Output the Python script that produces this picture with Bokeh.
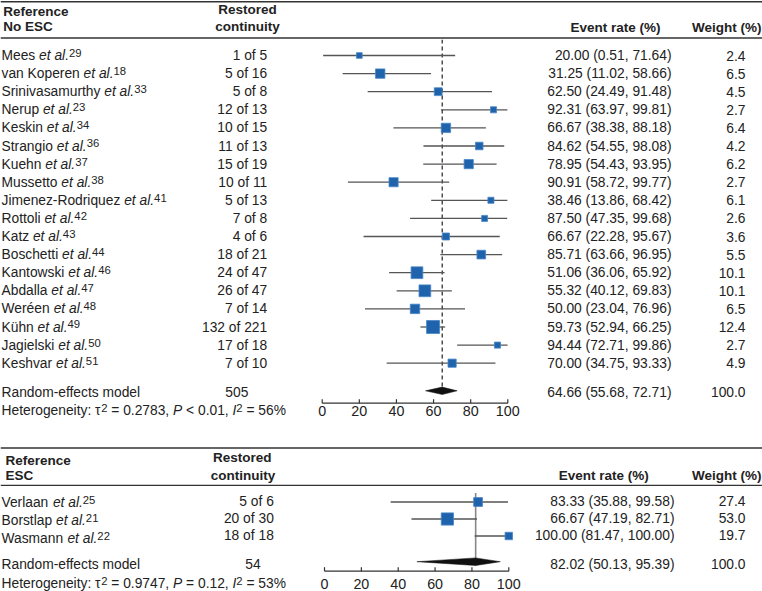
import math
from bokeh.plotting import figure
from bokeh.layouts import column
from bokeh.models import ColumnDataSource, Range1d
from bokeh.embed import file_html
from bokeh.resources import INLINE
from bokeh.core.properties import value

# ---------------- data: No ESC ----------------
noesc_study = ["Mees", "van Koperen", "Srinivasamurthy", "Nerup", "Keskin", "Strangio",
               "Kuehn", "Mussetto", "Jimenez-Rodriquez", "Rottoli", "Katz", "Boschetti",
               "Kantowski", "Abdalla", "Weréen", "Kühn", "Jagielski", "Keshvar"]
noesc_ref = ["29", "18", "33", "23", "34", "36", "37", "38", "41", "42", "43", "44",
             "46", "47", "48", "49", "50", "51"]
noesc_events = [1, 5, 5, 12, 10, 11, 15, 10, 5, 7, 4, 18, 24, 26, 7, 132, 17, 7]
noesc_total = [5, 16, 8, 13, 15, 13, 19, 11, 13, 8, 6, 21, 47, 47, 14, 221, 18, 10]
noesc_rate = [20.00, 31.25, 62.50, 92.31, 66.67, 84.62, 78.95, 90.91, 38.46, 87.50, 66.67,
              85.71, 51.06, 55.32, 50.00, 59.73, 94.44, 70.00]
noesc_lo = [0.51, 11.02, 24.49, 63.97, 38.38, 54.55, 54.43, 58.72, 13.86, 47.35, 22.28,
            63.66, 36.06, 40.12, 23.04, 52.94, 72.71, 34.75]
noesc_hi = [71.64, 58.66, 91.48, 99.81, 88.18, 98.08, 93.95, 99.77, 68.42, 99.68, 95.67,
            96.95, 65.92, 69.83, 76.96, 66.25, 99.86, 93.33]
noesc_weight = [2.4, 6.5, 4.5, 2.7, 6.4, 4.2, 6.2, 2.7, 6.1, 2.6, 3.6, 5.5, 10.1, 10.1,
                6.5, 12.4, 2.7, 4.9]
# row on which each study's marker is drawn (the original figure swaps rows 8 and 9)
noesc_plot_row = [0, 1, 2, 3, 4, 5, 6, 8, 7, 9, 10, 11, 12, 13, 14, 15, 16, 17]
noesc_pooled = [64.66, 55.68, 72.71]
noesc_pooled_n = 505
noesc_pooled_weight = 100.0
noesc_tau2 = "0.2783"
noesc_p = "< 0.01"
noesc_i2 = "56%"

# ---------------- data: ESC ----------------
esc_study = ["Verlaan", "Borstlap", "Wasmann"]
esc_ref = ["25", "21", "22"]
esc_events = [5, 20, 18]
esc_total = [6, 30, 18]
esc_rate = [83.33, 66.67, 100.00]
esc_lo = [35.88, 47.19, 81.47]
esc_hi = [99.58, 82.71, 100.00]
esc_weight = [27.4, 53.0, 19.7]
esc_plot_row = [0, 1, 2]
esc_pooled = [82.02, 50.13, 95.39]
esc_pooled_n = 54
esc_pooled_weight = 100.0
esc_tau2 = "0.9747"
esc_p = "= 0.12"
esc_i2 = "53%"

tick_values = [0, 20, 40, 60, 80, 100]

# ---------------- layout / style ----------------
PAGE_W = 762
FONT = "Liberation Sans"
TEXT_COLOR = "#222222"
RULE_COLOR = "#333333"
CI_COLOR = "#555555"
SQ_FILL = "#1f63ad"
SQ_LINE = "#4a86c6"
SIZES = {"reg": 13.8, "ital": 13.8, "bold": 13.5, "sup": 11.3, "tick": 14.3}
STYLES = {"reg": "normal", "ital": "italic", "bold": "bold", "sup": "normal", "tick": "normal"}
SUP_RISE = 2.6   # superscript centre above the text centre

ARIAL = {c: 556 for c in "0123456789"}
ARIAL.update({' ': 278, '%': 889, '(': 333, ')': 333, ',': 278, '-': 333, '.': 278,
              ':': 278, '<': 584, '=': 584, '>': 584, 'τ': 440, 'ü': 556, 'é': 556,
              'A': 667, 'B': 667, 'C': 722, 'D': 722, 'E': 667, 'F': 611, 'G': 778,
              'H': 722, 'I': 278, 'J': 500, 'K': 667, 'L': 556, 'M': 833, 'N': 722,
              'O': 778, 'P': 667, 'Q': 778, 'R': 722, 'S': 667, 'T': 611, 'U': 722,
              'V': 667, 'W': 944, 'X': 667, 'Y': 667, 'Z': 611,
              'a': 556, 'b': 556, 'c': 500, 'd': 556, 'e': 556, 'f': 278, 'g': 556,
              'h': 556, 'i': 222, 'j': 222, 'k': 500, 'l': 222, 'm': 833, 'n': 556,
              'o': 556, 'p': 556, 'q': 556, 'r': 333, 's': 500, 't': 278, 'u': 556,
              'v': 500, 'w': 722, 'x': 500, 'y': 500, 'z': 500})


def text_width_px(s, size):
    return sum(ARIAL.get(c, 556) for c in s) * size / 1000.0


def new_fig(y0, y1, x_range):
    f = figure(width=PAGE_W, height=int(round(y1 - y0)), x_range=x_range,
               y_range=Range1d(y1, y0), output_backend="svg", toolbar_location=None,
               tools="", x_axis_location=None, y_axis_location=None, min_border=0)
    f.grid.visible = False
    f.outline_line_color = None
    return f


class TextLayer:
    """Collects text items for one figure; x is converted from reference px."""

    def __init__(self, fig, zero_px, px_per_unit):
        self.fig = fig
        self.zero_px = zero_px
        self.ppu = px_per_unit
        self.groups = {}

    def ux(self, ref_px):
        return (ref_px - self.zero_px) / self.ppu

    def add(self, x_ref, y, text, style, align="left"):
        self.add_u(self.ux(x_ref), y, text, style, align)

    def add_u(self, x, y, text, style, align="left"):
        self.groups.setdefault((style, align), []).append((x, y, text))

    def rich(self, x_ref, y, pieces):
        x = self.ux(x_ref)
        for s, style in pieces:
            size = SIZES[style]
            lead = len(s) - len(s.lstrip(" "))
            core = s.strip(" ")
            xx = x + text_width_px(s[:lead], size) / self.ppu
            yy = y - SUP_RISE if style == "sup" else y
            if core:
                self.add_u(xx, yy, core, style)
            x += text_width_px(s, size) / self.ppu

    def render(self):
        for (style, align), items in self.groups.items():
            src = ColumnDataSource(dict(x=[i[0] for i in items], y=[i[1] for i in items],
                                        text=[i[2] for i in items]))
            self.fig.text(x="x", y="y", text="text", source=src,
                          text_font=value(FONT), text_font_size=f"{SIZES[style]}px",
                          text_font_style=STYLES[style], text_align=align,
                          text_baseline="middle", text_color=TEXT_COLOR)


def header_figure(y0, y1, rules, headers):
    f = new_fig(y0, y1, Range1d(0, PAGE_W))
    f.segment(x0=[0] * len(rules), x1=[PAGE_W] * len(rules), y0=rules, y1=rules,
              line_color=RULE_COLOR, line_width=1.6)
    tl = TextLayer(f, 0.0, 1.0)
    for txt, x, y, align in headers:
        tl.add(x, y, txt, "bold", align)
    tl.render()
    return f


def body_figure(y0, y1, zero_px, ppu, cfg):
    xr = Range1d(-zero_px / ppu, (PAGE_W - zero_px) / ppu)
    f = new_fig(y0, y1, xr)
    tl = TextLayer(f, zero_px, ppu)

    names_y, mark_y = cfg["names_y"], cfg["mark_y"]
    for i in range(len(cfg["study"])):
        tl.rich(1, names_y[i], [(cfg["study"][i] + " ", "reg"), ("et al.", "ital"),
                                (cfg["ref"][i], "sup")])
        vy = mark_y[i] + cfg["val_dy"]
        tl.add(cfg["count_x"], vy, f"{cfg['events'][i]} of {cfg['total'][i]}", "reg", "right")
        tl.add(cfg["rate_x"], vy,
               f"{cfg['rate'][i]:.2f} ({cfg['lo'][i]:.2f}, {cfg['hi'][i]:.2f})", "reg", "right")
        tl.add(745, vy, f"{cfg['weight'][i]:.1f}", "reg", "right")

    pe, plo, phi = cfg["pooled"]
    f.segment(x0=[pe], x1=[pe], y0=[cfg["vline"][0]], y1=[cfg["vline"][1]],
              line_color=cfg["vline_color"], line_width=cfg["vline_width"],
              line_dash=cfg["vline_dash"])

    my = [mark_y[r] for r in cfg["plot_row"]]
    f.segment(x0=cfg["lo"], x1=cfg["hi"], y0=my, y1=my, line_color=CI_COLOR, line_width=1.3)
    f.scatter(x=cfg["rate"], y=my, size=[cfg["sq_k"] * math.sqrt(w) for w in cfg["weight"]],
              marker="square", fill_color=SQ_FILL, line_color=SQ_LINE, line_width=0.8)

    dy, dh = cfg["diamond_y"], cfg["diamond_h"]
    f.patch(x=[plo, pe, phi, pe], y=[dy, dy - dh, dy, dy + dh], fill_color="#111111",
            line_color="#111111", line_width=0.5)

    ry = cfg["re_y"]
    tl.add(1, ry, "Random-effects model", "reg")
    tl.add(cfg["re_n_x"], ry, str(cfg["pooled_n"]), "reg", "center")
    tl.add(cfg["rate_x"], ry, f"{pe:.2f} ({plo:.2f}, {phi:.2f})", "reg", "right")
    tl.add(745, ry, f"{cfg['pooled_weight']:.1f}", "reg", "right")

    ay = cfg["axis_y"]
    f.segment(x0=[tick_values[0]], x1=[tick_values[-1]], y0=[ay], y1=[ay],
              line_color="#333333", line_width=1.2)
    f.segment(x0=tick_values, x1=tick_values, y0=[ay - 4] * len(tick_values),
              y1=[ay] * len(tick_values), line_color="#333333", line_width=1.2)
    for t in tick_values:
        tl.add_u(t, cfg["het_y"], str(t), "tick", "center")

    tl.rich(1, cfg["het_y"], [("Heterogeneity: τ", "reg"), ("2", "sup"),
                              (f" = {cfg['tau2']}, ", "reg"), ("P", "ital"),
                              (f" {cfg['p']}, ", "reg"), ("I", "ital"), ("2", "sup"),
                              (f" = {cfg['i2']}", "reg")])
    tl.render()
    return f


# ---------- top panel (No ESC) ----------
head1 = header_figure(0, 39, [1.3, 37.5], [
    ("Reference", 2.7, 10.8, "left"), ("No ESC", 2.7, 26.2, "left"),
    ("Restored", 247, 8.6, "center"), ("continuity", 247, 25.6, "center"),
    ("Event rate (%)", 660, 26.6, "right"), ("Weight (%)", 761, 26.6, "right")])

top_rows = [55 + 18.1 * i for i in range(len(noesc_study))]
body1 = body_figure(39, 446, 321.7, 1.856, dict(
    study=noesc_study, ref=noesc_ref, events=noesc_events, total=noesc_total,
    rate=noesc_rate, lo=noesc_lo, hi=noesc_hi, weight=noesc_weight,
    plot_row=noesc_plot_row, names_y=top_rows, mark_y=top_rows, val_dy=0,
    count_x=266.7, rate_x=671,
    pooled=noesc_pooled, pooled_n=noesc_pooled_n, pooled_weight=noesc_pooled_weight,
    vline=(39, 387), vline_color="#222222", vline_width=1.2, vline_dash="4 3",
    sq_k=3.7, diamond_y=390.3, diamond_h=3.7, re_y=391.6, re_n_x=236.3,
    axis_y=402.7, het_y=410, tau2=noesc_tau2, p=noesc_p, i2=noesc_i2))

# ---------- bottom panel (ESC) ----------
head2 = header_figure(446, 486, [447.5, 485], [
    ("Reference", 5, 460.2, "left"), ("ESC", 5, 475.2, "left"),
    ("Restored", 241.7, 456.9, "center"), ("continuity", 242.5, 475.2, "center"),
    ("Event rate (%)", 648.3, 475.2, "right"), ("Weight (%)", 761, 475.2, "right")])

bot_names = [501.7 + 18.3 * i for i in range(len(esc_study))]
bot_marks = [501.5 + 17 * i for i in range(len(esc_study))]
body2 = body_figure(486, 591, 324.0, 1.843, dict(
    study=esc_study, ref=esc_ref, events=esc_events, total=esc_total,
    rate=esc_rate, lo=esc_lo, hi=esc_hi, weight=esc_weight,
    plot_row=esc_plot_row, names_y=bot_names, mark_y=bot_marks, val_dy=-0.8,
    count_x=273.3, rate_x=674,
    pooled=esc_pooled, pooled_n=esc_pooled_n, pooled_weight=esc_pooled_weight,
    vline=(492.5, 565), vline_color="#888888", vline_width=1.6, vline_dash="solid",
    sq_k=1.68, diamond_y=561.2, diamond_h=3.8, re_y=563.6, re_n_x=252.5,
    axis_y=570.7, het_y=583, tau2=esc_tau2, p=esc_p, i2=esc_i2))

layout = column(head1, body1, head2, body2, spacing=0)
open("out.html", "w").write(file_html(layout, INLINE))
